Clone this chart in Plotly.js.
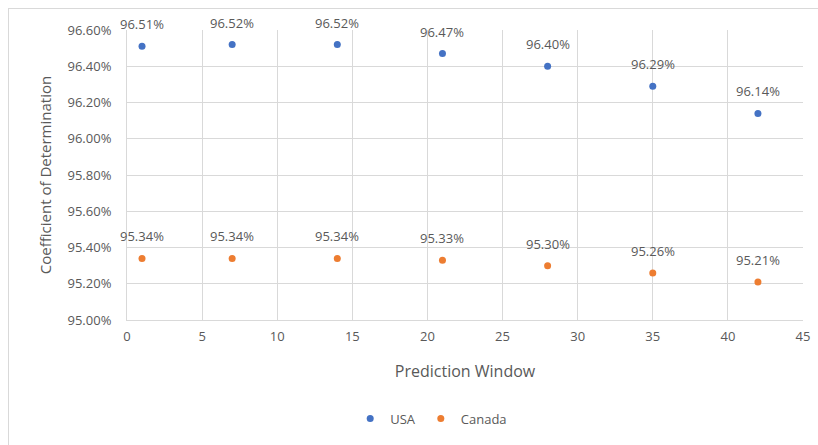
<!DOCTYPE html>
<html><head><meta charset="utf-8">
<script src="https://cdn.plot.ly/plotly-3.0.1.min.js"></script>
<style>
html,body{margin:0;padding:0;background:#fff;}
#frame{position:absolute;left:8px;top:8px;width:830px;height:460px;border:1px solid #d9d9d9;box-sizing:border-box;}
#chart{position:absolute;left:0;top:0;width:818px;height:445px;}
</style>
</head><body>
<div id="frame"></div>
<div id="chart"></div>
<script>
const predictionWindow = [1, 7, 14, 21, 28, 35, 42];
const usa = [96.51, 96.52, 96.52, 96.47, 96.40, 96.29, 96.14];
const canada = [95.34, 95.34, 95.34, 95.33, 95.30, 95.26, 95.21];
const yTicks = [95.0, 95.2, 95.4, 95.6, 95.8, 96.0, 96.2, 96.4, 96.6];
const xTicks = [0, 5, 10, 15, 20, 25, 30, 35, 40, 45];

const FONT = 'Open Sans, Lato, sans-serif';
const GREY = '#595959';
const fmt = v => v.toFixed(2) + '%';

const traces = [
  {x: predictionWindow, y: usa, name: 'USA', type: 'scatter', mode: 'markers',
   marker: {color: '#4472C4', size: 7}},
  {x: predictionWindow, y: canada, name: 'Canada', type: 'scatter', mode: 'markers',
   marker: {color: '#ED7D31', size: 7}}
];

const annotations = [];
[usa, canada].forEach(series => {
  series.forEach((v, i) => {
    annotations.push({x: predictionWindow[i], y: v, text: fmt(v), showarrow: false,
      yshift: 22, font: {family: FONT, size: 13, color: GREY}});
  });
});

const layout = {
  width: 818, height: 445,
  margin: {l: 127, r: 15, t: 30, b: 122},
  paper_bgcolor: 'rgba(0,0,0,0)', plot_bgcolor: '#fff',
  font: {family: FONT, size: 13, color: GREY},
  showlegend: true,
  legend: {orientation: 'h', x: 0.45, xanchor: 'center', y: -0.34, yanchor: 'middle',
           itemwidth: 30, font: {family: FONT, size: 13, color: GREY}},
  xaxis: {range: [0, 45], tickvals: xTicks, showgrid: true, gridcolor: '#d9d9d9',
          zeroline: false, showline: true, linecolor: '#d9d9d9', ticks: '',
          ticklabelstandoff: 4,
          title: {text: 'Prediction Window', font: {family: FONT, size: 16, color: GREY}, standoff: 22},
          tickfont: {family: FONT, size: 13, color: GREY}},
  yaxis: {range: [95.0, 96.6], tickvals: yTicks, ticktext: yTicks.map(fmt),
          showgrid: true, gridcolor: '#d9d9d9', zeroline: false, showline: true,
          linecolor: '#d9d9d9', ticks: '', ticklabelstandoff: 12,
          title: {text: 'Coefficient of Determination', font: {family: FONT, size: 15, color: GREY}, standoff: 12},
          tickfont: {family: FONT, size: 13, color: GREY}},
  annotations: annotations
};
Plotly.newPlot('chart', traces, layout, {displayModeBar: false, staticPlot: true});
</script>
</body></html>
